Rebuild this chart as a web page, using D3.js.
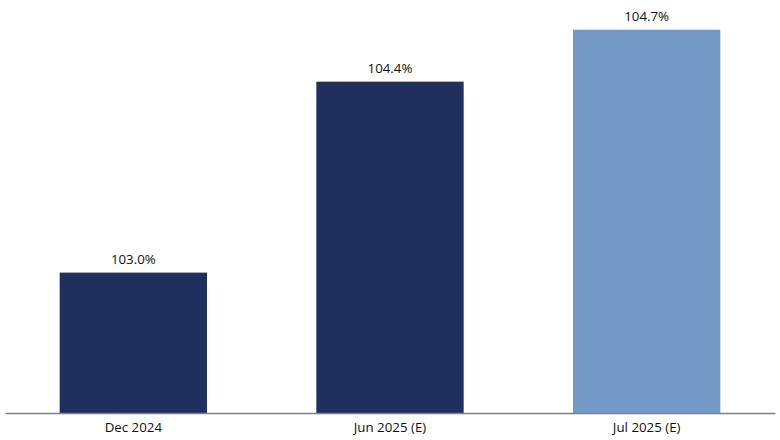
<!DOCTYPE html>
<html><head><meta charset="utf-8">
<script src="https://cdn.jsdelivr.net/npm/d3@7"></script>
<style>html,body{margin:0;padding:0;background:#fff;}svg{display:block;font-family:"Open Sans","Noto Sans",sans-serif;}</style>
</head><body>
<div id="chart"></div>
<script>
const categories = ["Dec 2024", "Jun 2025 (E)", "Jul 2025 (E)"];
const values = [103.0, 104.36, 104.73];
const barColors = ["#20305E", "#20305E", "#7399C6"];
const yDomain = [102, 105];

const W = 780, H = 440;
const svg = d3.select("#chart").append("svg").attr("width", W).attr("height", H);

const x = d3.scaleBand().domain(categories).range([5, 775]).paddingInner(0.426).paddingOuter(0.213);
const y = d3.scaleLinear().domain(yDomain).range([413, -8.2]);

svg.selectAll("rect.bar").data(values).join("rect")
  .attr("class", "bar")
  .attr("x", (d, i) => x(categories[i]))
  .attr("width", x.bandwidth())
  .attr("y", d => y(d))
  .attr("height", d => y(yDomain[0]) - y(d))
  .attr("fill", (d, i) => barColors[i]);

svg.selectAll("text.val").data(values).join("text")
  .attr("class", "val")
  .attr("x", (d, i) => x(categories[i]) + x.bandwidth() / 2)
  .attr("y", d => y(d) - 8.5)
  .attr("text-anchor", "middle")
  .attr("font-size", 13.3)
  .attr("fill", "#111")
  .text(d => d.toFixed(1) + "%");

const axis = d3.axisBottom(x).tickSize(0).tickPadding(10);
const g = svg.append("g").attr("transform", `translate(0,${y(yDomain[0])})`).call(axis);
g.select(".domain").attr("stroke", "#7f7f7f").attr("stroke-width", 1.3);
g.selectAll("text").attr("font-size", 13.3).attr("fill", "#111").attr("font-family", "\"Open Sans\",\"Noto Sans\",sans-serif");
</script>
</body></html>
